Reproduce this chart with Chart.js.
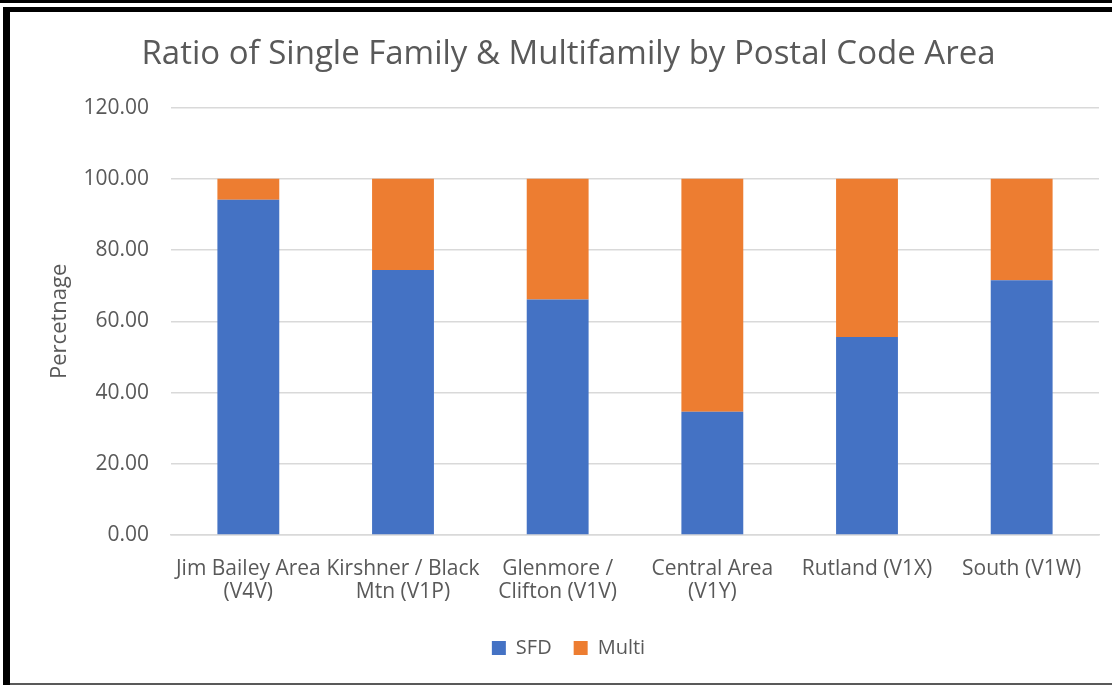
<!DOCTYPE html>
<html>
<head>
<meta charset="utf-8">
<script src="https://cdn.jsdelivr.net/npm/chart.js@4.4.1/dist/chart.umd.min.js"></script>
<style>
  html, body { margin: 0; padding: 0; background: #fff; }
  #wrap { position: relative; width: 1112px; height: 685px; overflow: hidden; }
  .ln { position: absolute; background: #000; }
  canvas { position: absolute; left: 0; top: 0; }
</style>
</head>
<body>
<div id="wrap">
  <div class="ln" style="left:0;top:0;width:1112px;height:3px;"></div>
  <div class="ln" style="left:3px;top:7px;width:1109px;height:5px;"></div>
  <div class="ln" style="left:3px;top:7px;width:7px;height:678px;"></div>
  <div class="ln" style="left:10px;top:683px;width:1102px;height:2px;background:#595959;"></div>
  <canvas id="c" width="1112" height="685"></canvas>
</div>
<script>
const categories = [
  ['Jim Bailey Area', '(V4V)'],
  ['Kirshner / Black', 'Mtn (V1P)'],
  ['Glenmore /', 'Clifton (V1V)'],
  ['Central Area', '(V1Y)'],
  'Rutland (V1X)',
  'South (V1W)'
];
const sfd = [94.1, 74.4, 66.1, 34.6, 55.6, 71.5];
const multi = [5.9, 25.6, 33.9, 65.4, 44.4, 28.5];
const yTicks = [0, 20, 40, 60, 80, 100, 120];

const grey = '#595959';
const fam = '"Open Sans", sans-serif';

new Chart(document.getElementById('c'), {
  type: 'bar',
  data: {
    labels: categories,
    datasets: [
      { label: 'SFD', data: sfd, backgroundColor: '#4472C4' },
      { label: 'Multi', data: multi, backgroundColor: '#ED7D31' }
    ]
  },
  options: {
    responsive: false,
    animation: false,
    layout: { padding: { left: 38, right: 13, top: 35, bottom: 17 } },
    datasets: { bar: { barPercentage: 0.4, categoryPercentage: 1 } },
    plugins: {
      title: {
        display: true,
        text: 'Ratio of Single Family & Multifamily by Postal Code Area',
        color: grey,
        font: { family: fam, size: 33, weight: 'normal' },
        padding: { top: 0, bottom: 33 }
      },
      legend: {
        position: 'bottom',
        labels: {
          color: grey,
          font: { family: fam, size: 20 },
          boxWidth: 14,
          boxHeight: 14,
          padding: 22
        }
      },
      tooltip: { enabled: false }
    },
    scales: {
      x: {
        stacked: true,
        afterFit: s => { s.height = 81; },
        grid: { display: false },
        border: { color: '#d9d9d9', width: 1.5 },
        ticks: {
          color: grey,
          font: { family: fam, size: 21, lineHeight: 1.1 },
          maxRotation: 0,
          autoSkip: false,
          padding: 14
        }
      },
      y: {
        stacked: true,
        min: 0,
        max: 120,
        afterFit: s => { s.width = 133; },
        afterBuildTicks: s => { s.ticks = yTicks.map(v => ({ value: v })); },
        border: { display: false },
        grid: { color: '#d9d9d9', lineWidth: 1.5, drawTicks: false },
        ticks: {
          color: grey,
          font: { family: fam, size: 21 },
          padding: 22,
          callback: v => v.toFixed(2)
        },
        title: {
          display: true,
          text: 'Percetnage',
          color: grey,
          font: { family: fam, size: 22 },
          padding: { top: 9, bottom: 0 }
        }
      }
    }
  }
});
</script>
</body>
</html>
